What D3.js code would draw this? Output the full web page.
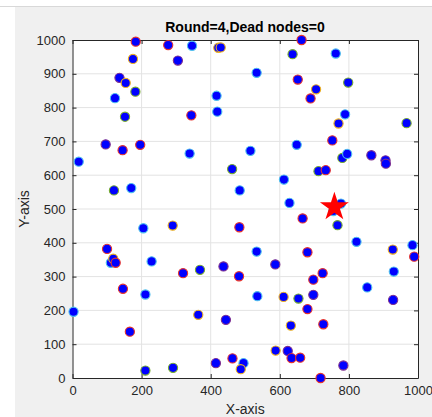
<!DOCTYPE html>
<html>
<head>
<meta charset="utf-8">
<script src="https://cdn.jsdelivr.net/npm/d3@7"></script>
<style>
  body { margin: 0; background: #fff; }
  svg { display: block; font-family: "Liberation Sans", Arial, sans-serif; }
</style>
</head>
<body>
<svg id="vis" width="432" height="417"></svg>
<script>
// node positions
const nodeX = [183, 277, 346, 422, 429, 663, 305, 175, 637, 762, 533, 136, 154, 182, 123, 652, 705, 798, 689, 417,
    419, 344, 152, 789, 770, 967,
    18, 96, 145, 196, 339, 515, 462, 649, 752, 781, 795, 865, 906, 907, 712, 733, 120, 170, 484, 612,
    628, 777, 755, 666, 767, 205, 290, 483, 822, 533, 680, 100, 927, 984, 989, 111, 118, 125, 229,
    320, 369, 437, 482, 587, 697, 724, 930, 853, 928, 146, 211, 3, 166, 364, 444, 535, 611, 654, 697,
    680, 632, 726, 588, 623, 634, 659, 463, 415, 495, 487, 211, 291, 718, 784];
const nodeY = [995, 985, 983, 977, 978, 1000, 939, 944, 958, 960, 903, 888, 873, 847, 828, 883, 854, 874, 827, 835,
    788, 777, 773, 780, 753, 754,
    640, 691, 674, 690, 664, 672, 618, 690, 703, 651, 663, 659, 644, 634, 612, 615, 555, 562, 555, 587,
    518, 516, 494, 472, 452, 443, 451, 446, 403, 374, 372, 382, 380, 393, 359, 341, 353, 341, 345,
    310, 320, 330, 301, 336, 291, 310, 315, 268, 231, 264, 247, 196, 137, 187, 172, 242, 240, 235, 246,
    204, 155, 159, 81, 80, 59, 60, 58, 44, 44, 26, 22, 30, 0, 37];
// edge colour group per node: r red, o orange, g green, c cyan, p purple
const nodeEdge = ["r", "r", "c", "o", "o", "r", "p", "o", "g", "c", "c", "p", "o", "g", "c", "r", "o", "g", "r", "c",
    "c", "r", "g", "c", "o", "g",
    "c", "p", "r", "r", "c", "c", "g", "c", "r", "g", "c", "p", "p", "p", "g", "r", "g", "c", "c", "c",
    "c", "c", "c", "r", "g", "c", "o", "r", "c", "c", "r", "r", "o", "c", "r", "c", "o", "r", "c",
    "r", "g", "p", "r", "p", "r", "r", "c", "c", "p", "r", "c", "c", "r", "o", "p", "c", "o", "g", "p",
    "r", "o", "r", "o", "p", "r", "r", "r", "p", "c", "o", "g", "g", "r", "p"];
const sink = [758, 506];
const xTicks = [0, 200, 400, 600, 800, 1000];
const yTicks = [0, 100, 200, 300, 400, 500, 600, 700, 800, 900, 1000];

const edgeColors = { r: "#e8342c", o: "#edb120", g: "#77ac30", c: "#4dbeee", p: "#7e2f8e" };

var svg = d3.select("#vis");

// figure background
svg.append("rect").attr("x", 15).attr("y", 7).attr("width", 417).attr("height", 410).attr("fill", "#f0f0f0");
svg.append("line").attr("x1", 0).attr("x2", 432).attr("y1", 6.5).attr("y2", 6.5).attr("stroke", "#d8d8d8");

const plot = { left: 72.5, right: 418, top: 40, bottom: 378 };

var x = d3.scaleLinear().domain([0, 1000]).range([plot.left, plot.right]);
var y = d3.scaleLinear().domain([0, 1000]).range([plot.bottom, plot.top]);

svg.append("rect")
    .attr("x", plot.left).attr("y", plot.top)
    .attr("width", plot.right - plot.left).attr("height", plot.bottom - plot.top)
    .attr("fill", "#fff");

// grid
var grid = svg.append("g").attr("stroke", "#e3e3e3").attr("stroke-width", 1);
grid.selectAll("line.gx").data(xTicks.slice(1, -1)).enter().append("line")
    .attr("x1", d => x(d)).attr("x2", d => x(d))
    .attr("y1", plot.top).attr("y2", plot.bottom);
grid.selectAll("line.gy").data(yTicks.slice(1, -1)).enter().append("line")
    .attr("x1", plot.left).attr("x2", plot.right)
    .attr("y1", d => y(d)).attr("y2", d => y(d));

// axes with inward ticks on all four sides
function styleAxis(g) {
    g.selectAll("path.domain").attr("stroke", "#262626");
    g.selectAll(".tick line").attr("stroke", "#262626");
    g.selectAll("text").attr("fill", "#262626").style("font-size", "13px");
}

var fmt = d3.format("d");

svg.append("g").attr("transform", "translate(0," + plot.bottom + ")")
    .call(d3.axisBottom(x).tickValues(xTicks).tickFormat(fmt).tickSizeInner(-4).tickSizeOuter(0).tickPadding(8))
    .call(styleAxis);
svg.append("g").attr("transform", "translate(0," + plot.top + ")")
    .call(d3.axisTop(x).tickValues(xTicks).tickSizeInner(-4).tickSizeOuter(0).tickFormat(""))
    .call(styleAxis);
svg.append("g").attr("transform", "translate(" + plot.left + ",0)")
    .call(d3.axisLeft(y).tickValues(yTicks).tickFormat(fmt).tickSizeInner(-4).tickSizeOuter(0).tickPadding(7))
    .call(styleAxis);
svg.append("g").attr("transform", "translate(" + plot.right + ",0)")
    .call(d3.axisRight(y).tickValues(yTicks).tickSizeInner(-4).tickSizeOuter(0).tickFormat(""))
    .call(styleAxis);

// nodes
var nodes = nodeX.map((d, i) => ({ x: d, y: nodeY[i], e: nodeEdge[i] }));
svg.append("g").selectAll("circle").data(nodes).enter().append("circle")
    .attr("cx", d => x(d.x)).attr("cy", d => y(d.y)).attr("r", 4.6)
    .attr("fill", "#0000ff")
    .attr("stroke", d => edgeColors[d.e]).attr("stroke-width", 1.1);

// sink
svg.append("path")
    .attr("d", d3.symbol().type(d3.symbolStar).size(260)())
    .attr("transform", "translate(" + x(sink[0]) + "," + y(sink[1]) + ")")
    .attr("fill", "#ff0000");

// labels
svg.append("text").attr("x", 245).attr("y", 32).attr("text-anchor", "middle")
    .style("font-size", "14px").style("font-weight", "bold").attr("fill", "#000")
    .text("Round=4,Dead nodes=0");
svg.append("text").attr("x", x(500)).attr("y", 414).attr("text-anchor", "middle")
    .style("font-size", "14px").attr("fill", "#262626").text("X-axis");
svg.append("text").attr("transform", "translate(29," + y(500) + ") rotate(-90)").attr("text-anchor", "middle")
    .style("font-size", "14px").attr("fill", "#262626").text("Y-axis");
</script>
</body>
</html>
